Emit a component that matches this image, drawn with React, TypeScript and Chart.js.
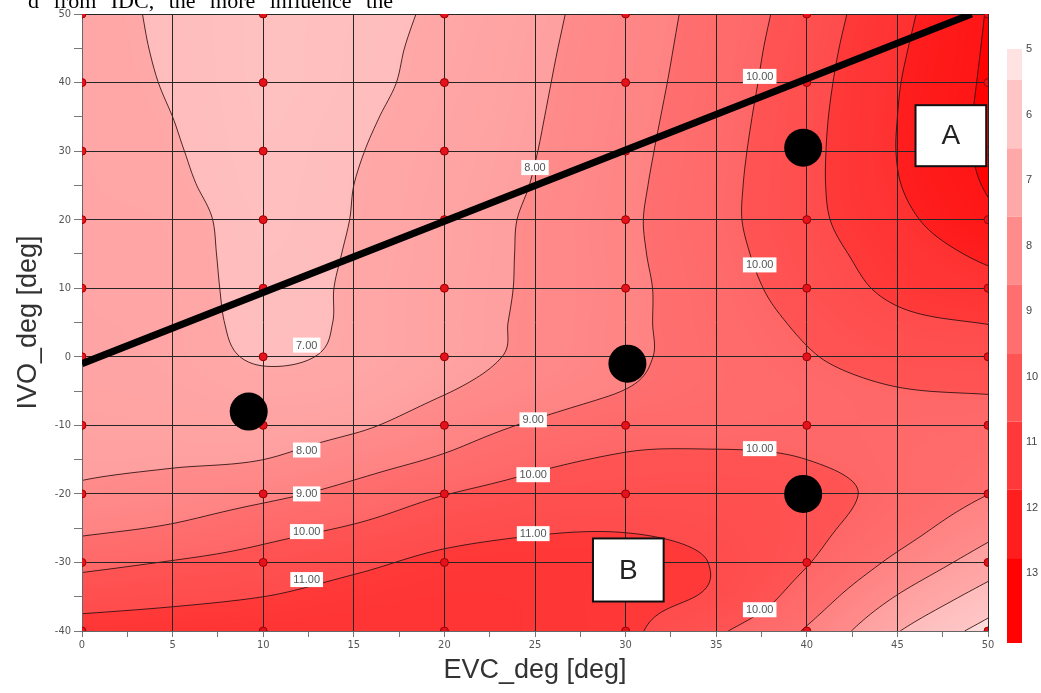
import React, { useEffect, useRef } from 'react';
import { Chart, registerables } from 'chart.js';

Chart.register(...registerables);

// ---- response surface values (rows: IVO from 50 down to -40, cols: EVC 0..50) ----
const X_GRID = [0, 5, 10, 15, 20, 25, 30, 35, 40, 45, 50];
const Y_GRID = [50, 45, 40, 35, 30, 25, 20, 15, 10, 5, 0, -5, -10, -15, -20, -25, -30, -35, -40];
const Z_GRID: number[][] = [
  [7.2, 6.9, 6.6, 6.75, 7.15, 7.77, 8.5, 9.38, 10.45, 11.73, 13.05],
  [7.22, 6.92, 6.6, 6.78, 7.22, 7.83, 8.55, 9.45, 10.55, 11.85, 13.1],
  [7.25, 6.95, 6.6, 6.8, 7.28, 7.88, 8.61, 9.51, 10.63, 11.95, 13.15],
  [7.28, 7.0, 6.62, 6.88, 7.37, 7.93, 8.67, 9.58, 10.7, 12.0, 13.2],
  [7.3, 7.05, 6.65, 6.95, 7.45, 7.98, 8.73, 9.65, 10.74, 12.02, 13.2],
  [7.32, 7.12, 6.68, 7.0, 7.5, 8.04, 8.79, 9.7, 10.76, 11.95, 13.08],
  [7.35, 7.25, 6.72, 7.02, 7.57, 8.12, 8.84, 9.72, 10.74, 11.75, 12.78],
  [7.38, 7.28, 6.75, 7.06, 7.6, 8.13, 8.82, 9.65, 10.6, 11.45, 12.2],
  [7.4, 7.3, 6.78, 7.1, 7.63, 8.13, 8.78, 9.56, 10.41, 11.2, 11.62],
  [7.42, 7.32, 6.82, 7.1, 7.65, 8.16, 8.8, 9.48, 10.15, 10.8, 11.03],
  [7.45, 7.35, 6.93, 7.15, 7.67, 8.2, 8.82, 9.4, 9.93, 10.4, 10.53],
  [7.55, 7.45, 7.25, 7.4, 7.95, 8.5, 9.02, 9.42, 9.7, 9.96, 10.04],
  [7.7, 7.65, 7.6, 7.85, 8.5, 9.12, 9.6, 9.65, 9.8, 9.78, 9.69],
  [7.85, 7.9, 8.0, 8.55, 9.13, 9.78, 10.1, 10.15, 10.0, 9.72, 9.35],
  [8.15, 8.39, 8.77, 9.31, 9.97, 10.36, 10.5, 10.5, 10.3, 9.72, 9.01],
  [8.8, 9.11, 9.64, 10.09, 10.63, 10.9, 10.95, 10.75, 10.25, 9.4, 8.32],
  [9.74, 10.05, 10.37, 10.8, 11.2, 11.3, 11.25, 10.95, 10.05, 8.78, 7.51],
  [10.6, 10.79, 11.0, 11.3, 11.45, 11.4, 11.2, 10.85, 9.55, 7.95, 6.58],
  [11.4, 11.5, 11.6, 11.6, 11.6, 11.4, 11.15, 10.15, 8.9, 7.05, 5.65],
];

const CONTOUR_LEVELS = [6, 7, 8, 9, 10, 11, 12, 13];
const BAND_MIN = [5, 6, 7, 8, 9, 10, 11, 12, 13];
const BAND_COLORS = [
  [255, 226, 226], [255, 197, 197], [255, 168, 168], [255, 139, 139], [255, 111, 111],
  [255, 84, 84], [255, 57, 57], [255, 30, 30], [255, 2, 2],
];
const COLORBAR_TICKS = [5, 6, 7, 8, 9, 10, 11, 12, 13];

// design points (red dots)
const DOE_X = [0, 10, 20, 30, 40, 50];
const DOE_Y = [-40, -30, -20, -10, 0, 10, 20, 30, 40, 50];

// black markers
const MARK_X = [9.2, 30.1, 39.8, 39.8];
const MARK_Y = [-8.0, -1.0, 30.5, -20.0];

// thick black line
const LINE_X = [0, 49.1];
const LINE_Y = [-1.0, 50];

// contour labels
const LABEL_TEXT = ['7.00', '8.00', '10.00', '10.00', '8.00', '9.00', '10.00', '11.00', '9.00', '10.00', '11.00', '10.00', '10.00'];
const LABEL_X = [12.4, 25.0, 37.4, 37.4, 12.4, 12.4, 12.4, 12.4, 24.9, 24.9, 24.9, 37.4, 37.4];
const LABEL_Y = [1.7, 27.6, 40.9, 13.4, -13.6, -20.0, -25.5, -32.5, -9.2, -17.2, -25.8, -13.4, -36.9];

// annotation boxes
const BOX_TEXT = ['A', 'B'];
const BOX_X0 = [46.0, 28.2];
const BOX_X1 = [49.9, 32.1];
const BOX_Y0 = [27.8, -35.7];
const BOX_Y1 = [36.7, -26.5];

function cr(p0: number, p1: number, p2: number, p3: number, t: number) {
  return 0.5 * (2 * p1 + (-p0 + p2) * t + (2 * p0 - 5 * p1 + 4 * p2 - p3) * t * t + (-p0 + 3 * p1 - 3 * p2 + p3) * t * t * t);
}

function gridVal(r: number, c: number): number {
  const ny = Y_GRID.length, nx = X_GRID.length;
  if (r < 0) return 2 * gridVal(0, c) - gridVal(1, c);
  if (r > ny - 1) return 2 * gridVal(ny - 1, c) - gridVal(ny - 2, c);
  if (c < 0) return 2 * Z_GRID[r][0] - Z_GRID[r][1];
  if (c > nx - 1) return 2 * Z_GRID[r][nx - 1] - Z_GRID[r][nx - 2];
  return Z_GRID[r][c];
}

function zAt(xv: number, yv: number): number {
  const nx = X_GRID.length, ny = Y_GRID.length;
  let u = (xv - X_GRID[0]) / (X_GRID[1] - X_GRID[0]);
  let v = (Y_GRID[0] - yv) / (Y_GRID[0] - Y_GRID[1]);
  u = Math.max(0, Math.min(nx - 1 - 1e-9, u));
  v = Math.max(0, Math.min(ny - 1 - 1e-9, v));
  const i = Math.floor(u), j = Math.floor(v);
  const tu = u - i, tv = v - j;
  const rows: number[] = [];
  for (let k = -1; k <= 2; k++) {
    rows.push(cr(gridVal(j + k, i - 1), gridVal(j + k, i), gridVal(j + k, i + 1), gridVal(j + k, i + 2), tu));
  }
  return cr(rows[0], rows[1], rows[2], rows[3], tv);
}

function colorFor(z: number): number[] {
  let k = 0;
  for (let b = 0; b < BAND_MIN.length; b++) if (z >= BAND_MIN[b]) k = b;
  const t = Math.max(0, Math.min(1, z - BAND_MIN[k]));
  const a = BAND_COLORS[k];
  const b = BAND_COLORS[Math.min(k + 1, BAND_COLORS.length - 1)];
  const f = 0.3 * t;
  return [a[0] + (b[0] - a[0]) * f, a[1] + (b[1] - a[1]) * f, a[2] + (b[2] - a[2]) * f];
}

const contourPlugin = {
  id: 'contourFill',
  beforeDraw(chart: any) {
    const { ctx, chartArea, scales } = chart;
    const xs = scales.x, ys = scales.y;
    const left = Math.round(chartArea.left), top = Math.round(chartArea.top);
    const w = Math.round(chartArea.right) - left, h = Math.round(chartArea.bottom) - top;
    const off = document.createElement('canvas');
    off.width = w; off.height = h;
    const octx = off.getContext('2d')!;
    const img = octx.createImageData(w, h);
    const xv = new Float64Array(w), yv = new Float64Array(h);
    for (let i = 0; i < w; i++) xv[i] = xs.getValueForPixel(left + i + 0.5);
    for (let j = 0; j < h; j++) yv[j] = ys.getValueForPixel(top + j + 0.5);
    for (let j = 0; j < h; j++) {
      for (let i = 0; i < w; i++) {
        const c = colorFor(zAt(xv[i], yv[j]));
        const p = (j * w + i) * 4;
        img.data[p] = c[0]; img.data[p + 1] = c[1]; img.data[p + 2] = c[2]; img.data[p + 3] = 255;
      }
    }
    octx.putImageData(img, 0, 0);
    ctx.save();
    ctx.drawImage(off, left, top);

    // contour lines via marching squares
    const step = 2;
    const nx = Math.ceil(w / step) + 1, ny = Math.ceil(h / step) + 1;
    const pxs = new Float64Array(nx), pys = new Float64Array(ny);
    for (let i = 0; i < nx; i++) pxs[i] = left + Math.min(i * step, w);
    for (let j = 0; j < ny; j++) pys[j] = top + Math.min(j * step, h);
    const Z = new Float64Array(nx * ny);
    for (let j = 0; j < ny; j++) {
      const yy = ys.getValueForPixel(pys[j]);
      for (let i = 0; i < nx; i++) Z[j * nx + i] = zAt(xs.getValueForPixel(pxs[i]), yy);
    }
    ctx.beginPath();
    ctx.rect(chartArea.left, chartArea.top, chartArea.right - chartArea.left, chartArea.bottom - chartArea.top);
    ctx.clip();
    ctx.strokeStyle = 'rgba(45,15,15,0.85)';
    ctx.lineWidth = 1;
    for (const L of CONTOUR_LEVELS) {
      ctx.beginPath();
      for (let j = 0; j < ny - 1; j++) {
        for (let i = 0; i < nx - 1; i++) {
          const a = Z[j * nx + i], b = Z[j * nx + i + 1], c = Z[(j + 1) * nx + i + 1], d = Z[(j + 1) * nx + i];
          const pts: number[][] = [];
          const x0 = pxs[i], x1 = pxs[i + 1], y0 = pys[j], y1 = pys[j + 1];
          if ((a >= L) !== (b >= L)) { const t = (L - a) / (b - a); pts.push([x0 + (x1 - x0) * t, y0]); }
          if ((b >= L) !== (c >= L)) { const t = (L - b) / (c - b); pts.push([x1, y0 + (y1 - y0) * t]); }
          if ((d >= L) !== (c >= L)) { const t = (L - d) / (c - d); pts.push([x0 + (x1 - x0) * t, y1]); }
          if ((a >= L) !== (d >= L)) { const t = (L - a) / (d - a); pts.push([x0, y0 + (y1 - y0) * t]); }
          if (pts.length >= 2) { ctx.moveTo(pts[0][0], pts[0][1]); ctx.lineTo(pts[1][0], pts[1][1]); }
          if (pts.length === 4) { ctx.moveTo(pts[2][0], pts[2][1]); ctx.lineTo(pts[3][0], pts[3][1]); }
        }
      }
      ctx.stroke();
    }
    ctx.restore();
  },
};

const overlayPlugin = {
  id: 'overlay',
  afterDatasetsDraw(chart: any) {
    const { ctx, scales } = chart;
    const xs = scales.x, ys = scales.y;
    ctx.save();
    // contour labels
    ctx.font = '11px "Liberation Sans", Arial, sans-serif';
    ctx.textAlign = 'center';
    ctx.textBaseline = 'middle';
    for (let k = 0; k < LABEL_TEXT.length; k++) {
      const px = xs.getPixelForValue(LABEL_X[k]);
      const py = ys.getPixelForValue(LABEL_Y[k]);
      const tw = ctx.measureText(LABEL_TEXT[k]).width;
      ctx.fillStyle = '#ffffff';
      ctx.fillRect(px - tw / 2 - 3, py - 7.5, tw + 6, 15);
      ctx.fillStyle = '#555555';
      ctx.fillText(LABEL_TEXT[k], px, py + 0.5);
    }
    // A / B boxes
    for (let k = 0; k < BOX_TEXT.length; k++) {
      const x0 = xs.getPixelForValue(BOX_X0[k]), x1 = xs.getPixelForValue(BOX_X1[k]);
      const y0 = ys.getPixelForValue(BOX_Y0[k]), y1 = ys.getPixelForValue(BOX_Y1[k]);
      const l = Math.min(x0, x1), t = Math.min(y0, y1), w = Math.abs(x1 - x0), h = Math.abs(y1 - y0);
      ctx.fillStyle = '#ffffff';
      ctx.fillRect(l, t, w, h);
      ctx.strokeStyle = '#111111';
      ctx.lineWidth = 2;
      ctx.strokeRect(l, t, w, h);
      ctx.fillStyle = '#222222';
      ctx.font = '28px "Liberation Sans", Arial, sans-serif';
      ctx.fillText(BOX_TEXT[k], l + w / 2, t + h / 2 + 1);
    }
    ctx.restore();
  },
  afterDraw(chart: any) {
    const { ctx } = chart;
    ctx.save();
    const bx = 1007, bw = 15;
    const top = 49, bottom = 643, first = 80, spacing = 68.3;
    const edges = [top];
    for (let k = 0; k < BAND_COLORS.length - 1; k++) edges.push(first + spacing * k);
    edges.push(bottom);
    for (let k = 0; k < BAND_COLORS.length; k++) {
      const c = BAND_COLORS[k];
      ctx.fillStyle = `rgb(${c[0]},${c[1]},${c[2]})`;
      ctx.fillRect(bx, edges[k], bw, edges[k + 1] - edges[k]);
    }
    ctx.fillStyle = '#444444';
    ctx.font = '11px "Liberation Sans", Arial, sans-serif';
    ctx.textAlign = 'left';
    ctx.textBaseline = 'middle';
    COLORBAR_TICKS.forEach((v, k) => {
      ctx.fillText(String(v), bx + bw + 4, top + 65.5 * k);
    });
    ctx.restore();
  },
};

export default function App() {
  const ref = useRef<HTMLCanvasElement>(null);
  useEffect(() => {
    const canvas = ref.current;
    if (!canvas) return;
    const doePts: { x: number; y: number }[] = [];
    DOE_Y.forEach((y) => DOE_X.forEach((x) => doePts.push({ x, y })));
    const tickFont = { size: 11, family: '"Liberation Sans Narrow", "DejaVu Sans Condensed", Arial, sans-serif' };
    const titleFont = { size: 27, family: '"Liberation Sans", Arial, sans-serif' };
    const chart = new Chart(canvas, {
      type: 'scatter',
      data: {
        datasets: [
          {
            label: 'marks',
            data: MARK_X.map((x, i) => ({ x, y: MARK_Y[i] })),
            pointRadius: 19,
            pointHoverRadius: 19,
            backgroundColor: '#000000',
            borderColor: '#000000',
            borderWidth: 0,
            clip: 0,
          } as any,
          {
            label: 'line',
            type: 'line',
            data: LINE_X.map((x, i) => ({ x, y: LINE_Y[i] })),
            borderColor: '#000000',
            borderWidth: 7,
            pointRadius: 0,
            fill: false,
            tension: 0,
            clip: 0,
          } as any,
          {
            label: 'doe',
            data: doePts,
            pointRadius: 4,
            pointHoverRadius: 4,
            backgroundColor: '#e3121c',
            borderColor: '#9a0000',
            borderWidth: 1,
            clip: 0,
          } as any,
        ],
      },
      options: {
        animation: false,
        responsive: false,
        events: [],
        layout: { autoPadding: false, padding: { left: 0, top: 14, right: 53, bottom: 0 } },
        plugins: { legend: { display: false }, tooltip: { enabled: false } },
        scales: {
          x: {
            type: 'linear',
            min: 0,
            max: 50,
            afterFit: (s: any) => { s.height = 62; s.paddingLeft = 0; s.paddingRight = 0; },
            ticks: {
              stepSize: 2.5,
              autoSkip: false,
              maxRotation: 0,
              padding: 2,
              color: '#555555',
              font: tickFont,
              callback: (v: any) => (Math.abs(Number(v) % 5) < 1e-6 ? String(v) : ''),
            },
            grid: {
              color: (c: any) => (c.tick && Math.abs(c.tick.value % 5) < 1e-6 ? '#262626' : 'rgba(0,0,0,0)'),
              tickColor: '#777777',
              tickLength: 6,
              lineWidth: 1,
            },
            border: { display: true, color: '#666666' },
            title: { display: true, text: 'EVC_deg [deg]', color: '#333333', font: titleFont, padding: { top: 0, bottom: 6 } },
          },
          y: {
            type: 'linear',
            min: -40,
            max: 50,
            afterFit: (s: any) => { s.width = 82; s.paddingTop = 0; s.paddingBottom = 0; },
            ticks: {
              stepSize: 5,
              autoSkip: false,
              padding: 3,
              color: '#555555',
              font: tickFont,
              callback: (v: any) => (Math.abs(Number(v) % 10) < 1e-6 ? String(v) : ''),
            },
            grid: {
              color: (c: any) => (c.tick && Math.abs(c.tick.value % 10) < 1e-6 ? '#262626' : 'rgba(0,0,0,0)'),
              tickColor: '#777777',
              tickLength: 8,
              lineWidth: 1,
            },
            border: { display: true, color: '#666666' },
            title: { display: true, text: 'IVO_deg [deg]', color: '#333333', font: titleFont, padding: { top: 12, bottom: 0 } },
          },
        },
      } as any,
      plugins: [contourPlugin, overlayPlugin],
    });
    return () => chart.destroy();
  }, []);

  return (
    <div style={{ position: 'absolute', left: 0, top: 0, width: 1041, height: 693, background: '#ffffff', overflow: 'hidden' }}>
      <canvas ref={ref} width={1041} height={693} style={{ position: 'absolute', left: 0, top: 0, width: 1041, height: 693 }} />
      <div
        style={{
          position: 'absolute',
          left: 28,
          top: -10,
          fontFamily: '"Liberation Serif", "Times New Roman", serif',
          fontSize: 22,
          lineHeight: '22px',
          wordSpacing: 9,
          whiteSpace: 'nowrap',
          color: '#000',
        }}
      >
        d from IDC, the more influence the
      </div>
    </div>
  );
}
